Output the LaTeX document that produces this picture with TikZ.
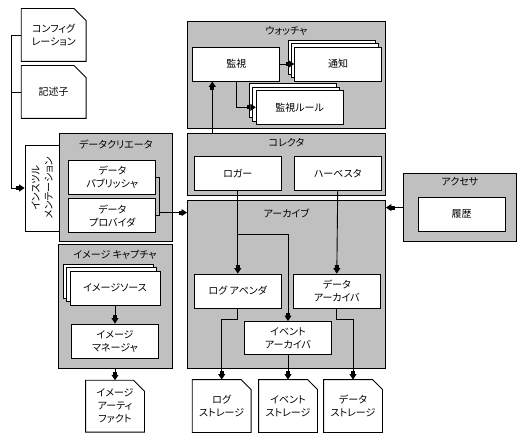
\documentclass[tikz,border=0pt]{standalone}
\usepackage{fontspec}
\setmainfont{Noto Sans CJK JP}[RawFeature=+palt]
\usetikzlibrary{arrows.meta, positioning, shadows}

\definecolor{panel}{RGB}{192,192,192}

\newcommand{\dogear}[2]{%
  \draw (#1.south west) -- (#1.north west) -- ([xshift=-#2]#1.north east)
    -- ([yshift=-#2]#1.north east) -- (#1.south east) -- cycle;}

\begin{document}
\begin{tikzpicture}[
    x=1pt, y=-1pt,
    font=\fontsize{10}{13}\selectfont,
    line width=0.9pt,
    >={Rectangle[length=3pt, width=4pt] Triangle[length=5.5pt, width=7pt]},
    group/.style={rectangle, draw=black, fill=panel, inner sep=0pt, anchor=north west},
    grouptitle/.style={inner sep=0pt},
    box/.style={rectangle, draw=black, fill=white, align=center, inner sep=0pt, minimum width=87pt, minimum height=34pt},
    stackbox/.style={box, double copy shadow={shadow xshift=-3.3pt, shadow yshift=3.3pt}},
    doc/.style={rectangle, align=center, inner sep=0pt, minimum width=58pt, minimum height=52pt}
]
\useasboundingbox (0,0) rectangle (521,435);

% Groups
\node[group, minimum width=198pt, minimum height=107pt] (watcher) at (187,21) {};
\node[group, minimum width=198pt, minimum height=62pt] (collector) at (187,133) {};
\node[group, minimum width=198pt, minimum height=167.5pt] (archive) at (187,200) {};
\node[group, minimum width=113pt, minimum height=67.7pt] (accessor) at (403,173.3) {};
\node[group, minimum width=112.7pt, minimum height=107.7pt] (creator) at (59,133.3) {};
\node[group, minimum width=114.2pt, minimum height=123pt] (capture) at (57.5,244.5) {};

\node[grouptitle, below=5pt of watcher.north] (watcher-t) {ウォッチャ};
\node[grouptitle, below=5pt of collector.north] (collector-t) {コレクタ};
\node[grouptitle, below=8pt of archive.north] (archive-t) {アーカイブ};
\node[grouptitle, below=4pt of accessor.north] (accessor-t) {アクセサ};
\node[grouptitle, below=6pt of creator.north] (creator-t) {データクリエータ};
\node[grouptitle, below=5pt of capture.north] (capture-t) {イメージ キャプチャ};

% Watcher
\node[box] (mon) at (236.3,64) {監視};
\node[stackbox, right=14pt of mon] (notify) {通知};
\node[stackbox] (rules) at (299.7,107.3) {監視ルール};

% Collector
\node[box] (logger) at (237.8,173.7) {ロガー};
\node[box, right=12pt of logger] (harvester) {ハーベスタ};

% Archive
\node[box] (appender) at (237.8,291) {ログ アペンダ};
\node[box] (dataarch) at (336.8,291) {データ\\アーカイバ};
\node[box, minimum height=33pt] (eventarch) at (288,338) {イベント\\アーカイバ};

% Accessor
\node[box] (history) at (461.7,214.2) {履歴};

% Data creator
\node[box] (pub) at (112.3,177) {データ\\パブリッシャ};
\node[box, below=3.7pt of pub] (prov) {データ\\プロバイダ};
\node[box, fill=white, minimum width=34.3pt, minimum height=86pt] (instr) at (42.2,188) {};
\node[rotate=90, align=center, inner sep=0pt] (instr-t) at (instr) {インスツル\\メンテーション};

% Image capture
\node[stackbox, minimum width=90pt] (source) at (115,288) {イメージソース};
\node[box] (manager) at (115,341) {イメージ\\マネージャ};

% Documents
\node[doc, minimum width=64pt] (config) at (53.7,35) {コンフィグ\\レーション};
\node[doc, minimum width=64pt] (desc) at (53.7,92) {記述子};
\node[doc, minimum height=51pt] (artifact) at (115,406.2) {イメージ\\アーティ\\ファクト};
\node[doc] (logstore) at (221.7,406) {ログ\\ストレージ};
\node[doc] (evstore) at (288,406) {イベント\\ストレージ};
\node[doc] (datastore) at (353,406) {データ\\ストレージ};
\dogear{config}{12pt}
\dogear{desc}{12pt}
\dogear{artifact}{11pt}
\dogear{logstore}{10pt}
\dogear{evstore}{10pt}
\dogear{datastore}{10pt}

% Connectors
\draw[->] (config.west) -- ++(-10,0) |- (instr.west);
\draw (desc.west) -- ++(-10,0);

\draw (pub.east) -- ++(3.6,0) |- (prov.east);
\coordinate (dc-out) at ([xshift=3.6pt, yshift=3pt]prov.east);
\draw[->] (dc-out) -- (dc-out -| archive.west);
\draw[->] (accessor.west) -- (accessor.west -| archive.east);

\draw[->] (mon.east) -- (notify.west);
\draw[->] (mon.south) |- (rules.west);
\draw[->] ([xshift=-24pt]mon.south |- collector.north) -- ([xshift=-24pt]mon.south);

\draw[->] (logger.south) -- (appender.north);
\draw[->] ([yshift=-43pt]logger.south) -| (eventarch.north);
\draw[->] (harvester.south) -- (dataarch.north);

\draw[->] (appender.south) -- ++(0,10.6) -| (logstore.north);
\draw[->] (eventarch.south) -- (evstore.north);
\draw[->] (dataarch.south) -- ++(0,10.6) -| (datastore.north);

\draw[->] (source.south) -- (manager.north);
\draw[->] (capture.south -| artifact.north) -- (artifact.north);

\end{tikzpicture}
\end{document}
